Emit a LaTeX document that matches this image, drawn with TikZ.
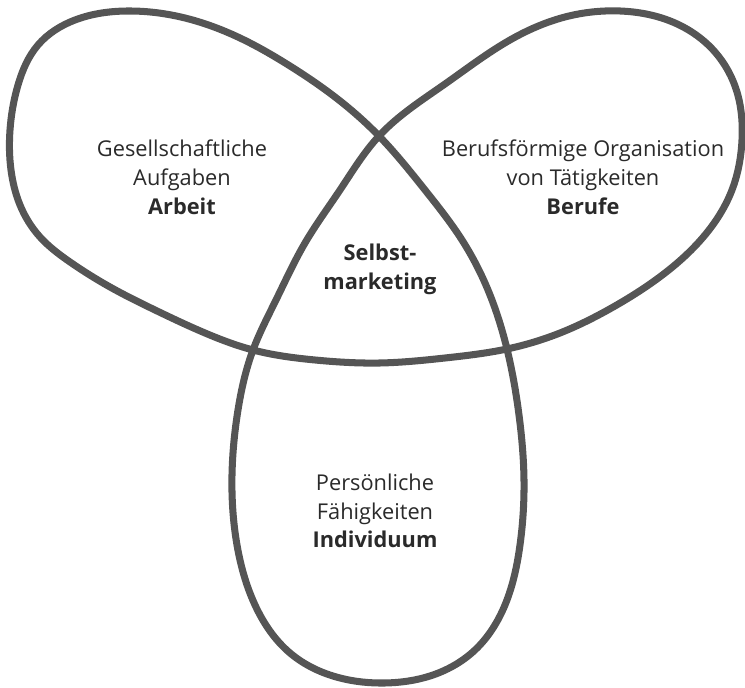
\documentclass[tikz,border=0pt]{standalone}
\usepackage{fontspec}
\setmainfont{Open Sans}
\usepackage{tikz}
\usetikzlibrary{hobby}
\usepackage{xcolor}
\definecolor{loopgray}{HTML}{555555}
\definecolor{textgray}{HTML}{2A2A2A}

\begin{document}
\begin{tikzpicture}[x=0.02cm,y=-0.02cm,
    loopline/.style={draw=loopgray,line width=4pt,use Hobby shortcut,closed=true},
    labeltext/.style={align=center,text=textgray,font=\fontsize{12.4}{16.4}\selectfont}]
        \useasboundingbox (0,0) rectangle (745,688);
        % one closed curve, three loops
        \draw[loopline] (379,136) .. (335,97) .. (290,66) .. (240,38) .. (185,18)
          .. (130,11) .. (75,20) .. (38,45) .. (18,85) .. (10,130) .. (11,170)
          .. (20,205) .. (40,237) .. (70,262) .. (110,287) .. (155,310) .. (205,333)
          .. (253,350) .. (315,360) .. (380,363) .. (445,358) .. (507,349)
          .. (560,333) .. (615,306) .. (665,273) .. (705,235) .. (732,190)
          .. (742,140) .. (737,92) .. (715,52) .. (675,23) .. (620,11) .. (565,17)
          .. (510,40) .. (445,84) .. (379,136) .. (340,190) .. (305,243) .. (276,300)
          .. (253,350) .. (238,410) .. (232,475) .. (237,545) .. (255,605)
          .. (290,653) .. (340,678) .. (385,683) .. (430,676) .. (475,650)
          .. (505,605) .. (520,545) .. (524,480) .. (519,415) .. (507,349)
          .. (488,290) .. (462,240) .. (425,190);
        \node[labeltext] (arbeit) at (182,177) {Gesellschaftliche\\Aufgaben\\\textbf{Arbeit}};
        \node[labeltext] (berufe) at (583,177) {Berufsförmige Organisation\\von Tätigkeiten\\\textbf{Berufe}};
        \node[labeltext] (selbst) at (380,269) {\textbf{Selbst-}\\\textbf{marketing}};
        \node[labeltext] (individuum) at (375,511) {Persönliche\\Fähigkeiten\\\textbf{Individuum}};
      \end{tikzpicture}
\end{document}
